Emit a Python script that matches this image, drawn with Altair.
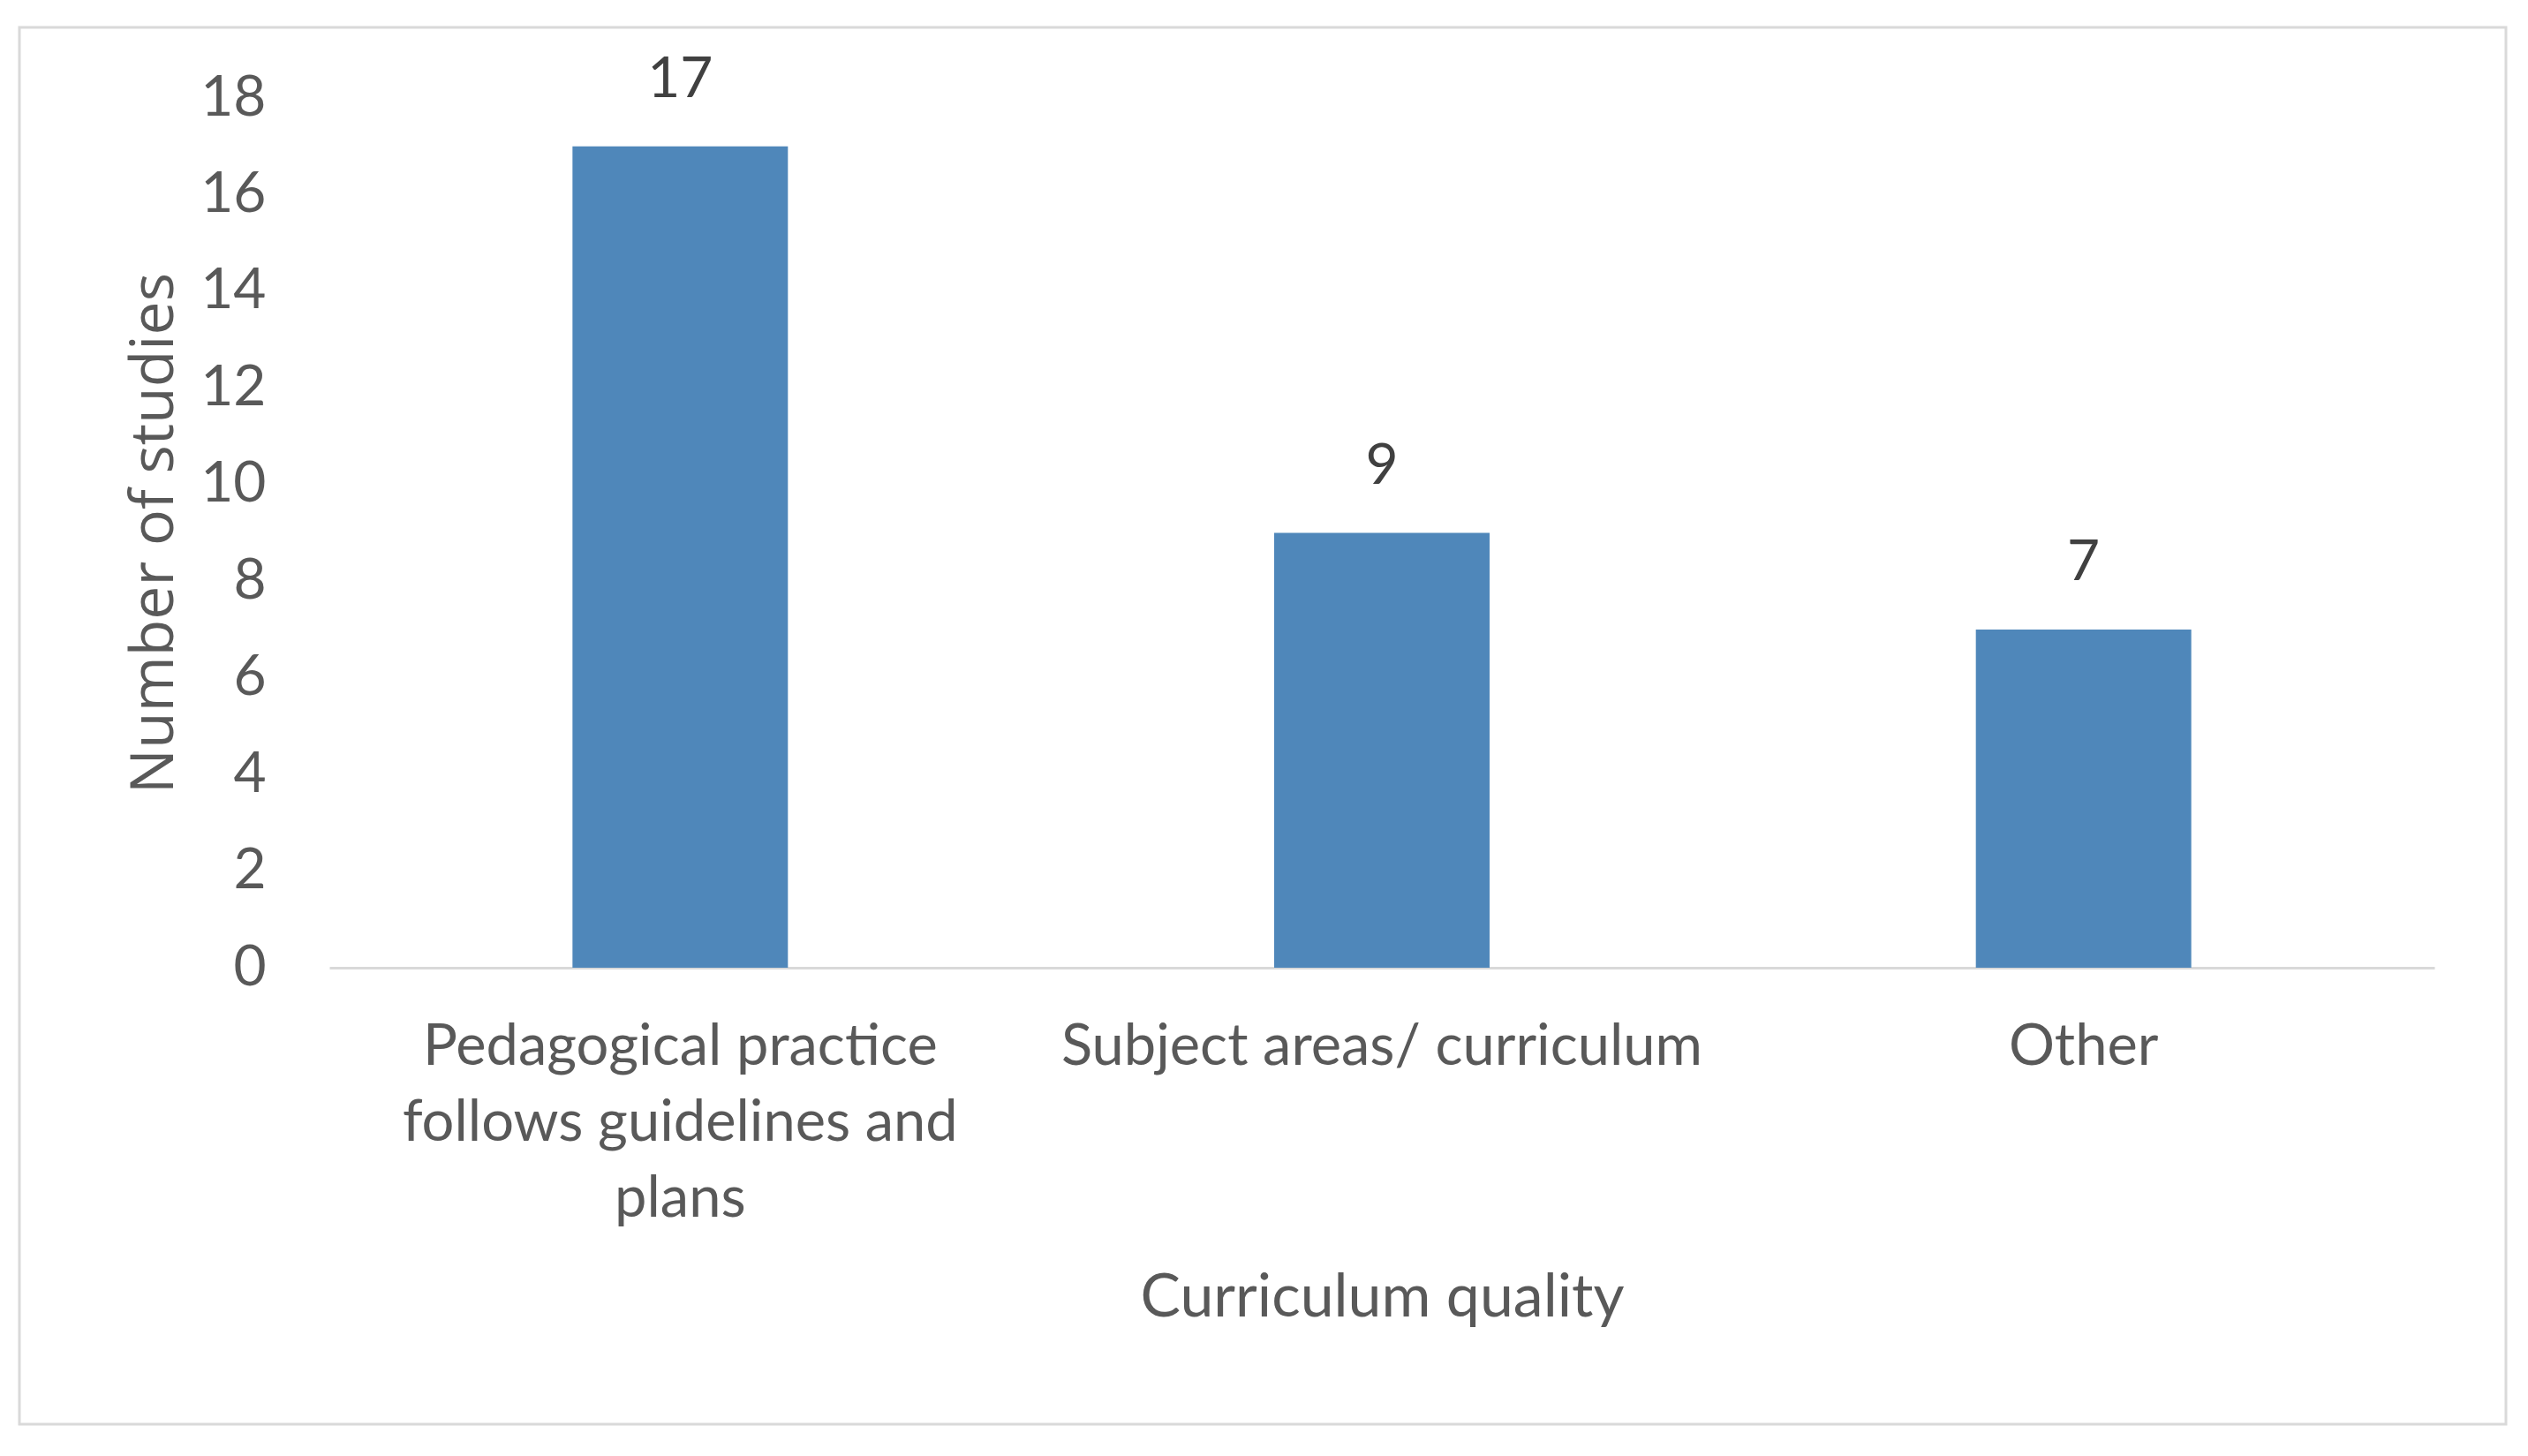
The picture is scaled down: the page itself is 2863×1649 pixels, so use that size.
import altair as alt
import pandas as pd

categories = [
    "Pedagogical practice follows guidelines and plans",
    "Subject areas/ curriculum",
    "Other",
]
label_lines = [
    ["Pedagogical practice", "follows guidelines and", "plans"],
    ["Subject areas/ curriculum"],
    ["Other"],
]
values = [17, 9, 7]

df = pd.DataFrame({"category": categories, "value": values})

label_expr = " : ".join(
    [f"datum.label == '{c}' ? {lines!r}" for c, lines in zip(categories, label_lines)]
) + " : datum.label"

W, H = 2384, 985
FONT = "Lato"

x_enc = alt.X(
    "category:N",
    sort=categories,
    scale=alt.Scale(paddingInner=0.693, paddingOuter=0.3465),
    axis=alt.Axis(
        title="Curriculum quality",
        labelAngle=0,
        labelExpr=label_expr,
        labelFont=FONT,
        labelFontSize=65,
        labelColor="#595959",
        labelLineHeight=86,
        labelPadding=58,
        labelLimit=0,
        ticks=False,
        domainColor="#d9d9d9",
        domainWidth=3,
        titleFont=FONT,
        titleFontSize=68,
        titleFontWeight="normal",
        titleColor="#595959",
        titlePadding=140,
    ),
)

y_enc = alt.Y(
    "value:Q",
    scale=alt.Scale(domain=[0, 18]),
    axis=alt.Axis(
        title="Number  of studies",
        values=list(range(0, 19, 2)),
        grid=False,
        domain=False,
        ticks=False,
        labelFont=FONT,
        labelFontSize=64,
        labelColor="#595959",
        labelPadding=72,
        titleFont="Open Sans",
        titleFontSize=68,
        titleFontWeight="normal",
        titleColor="#595959",
        titlePadding=17,
    ),
)

base = alt.Chart(df)

bars = base.mark_bar(color="#4f87ba").encode(x=x_enc, y=y_enc)

texts = base.mark_text(
    font=FONT, fontSize=64, color="#404040", baseline="alphabetic", dy=-56
).encode(x=alt.X("category:N", sort=categories), y="value:Q", text="value:Q")

border = alt.Chart(pd.DataFrame({"a": [0]})).mark_rect(
    fill="transparent", stroke="#d9d9d9", strokeWidth=3
).encode(
    x=alt.value(-351), x2=alt.value(2465), y=alt.value(-80), y2=alt.value(1502)
)

chart = (
    alt.layer(border, bars, texts)
    .properties(
        width=W,
        height=H,
        padding={"left": 12, "top": 21, "right": 5, "bottom": 5},
        background="white",
    )
    .configure_view(stroke=None)
)

chart.save("out.html", embed_options={"renderer": "svg", "actions": False})
